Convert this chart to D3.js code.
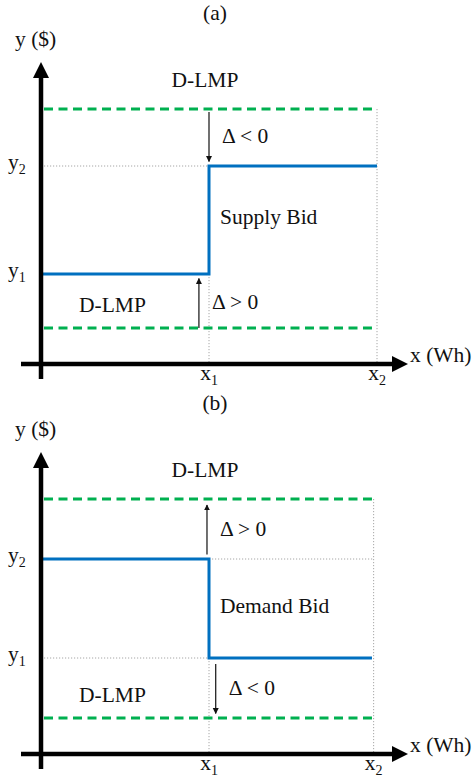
<!DOCTYPE html>
<html>
<head>
<meta charset="utf-8">
<script src="https://cdn.jsdelivr.net/npm/d3@7"></script>
<style>
  body { margin: 0; background: #fff; }
  svg text { font-family: "Liberation Serif", "Times New Roman", serif; fill: #111; }
</style>
</head>
<body>
<svg width="474" height="783"></svg>
<script>
// panel titles and bid names
const panelTitles = ["(a)", "(b)"];
const bidNames = ["Supply Bid", "Demand Bid"];
const xTickNames = ["1", "2"]; // x1, x2
const yTickNames = ["1", "2"]; // y1, y2

// x positions in data units (0..100), y price levels (0..100)
const xTicksA = [50, 100];
const xTicksB = [50, 99];
const levelsA = { y1: 30, y2: 66 };
const levelsB = { y1: 32, y2: 65 };
const dlmpA = [12, 85]; // lower / upper D-LMP
const dlmpB = [12, 85];
const dlmpEnd = 98.5;

// bid step curves
const stepA = [[0, 30], [50, 30], [50, 66], [100, 66]];
const stepB = [[0, 65], [50, 65], [50, 32], [98.5, 32]];

// delta arrows: x, from, to
const deltasA = [
  { label: "\u0394 < 0", x: 50, from: 84, to: 67.5 },
  { label: "\u0394 > 0", x: 47, from: 12, to: 28.5 }
];
const deltasB = [
  { label: "\u0394 > 0", x: 49.4, from: 66.5, to: 83 },
  { label: "\u0394 < 0", x: 52, from: 30, to: 13.5 }
];

const panels = [
  { title: panelTitles[0], bid: bidNames[0], xt: xTicksA, lv: levelsA, dlmp: dlmpA, step: stepA, deltas: deltasA, dy: 0, dotY: "y2" },
  { title: panelTitles[1], bid: bidNames[1], xt: xTicksB, lv: levelsB, dlmp: dlmpB, step: stepB, deltas: deltasB, dy: 390, dotY: "both" }
];

const svg = d3.select("svg");
const defs = svg.append("defs");
defs.append("marker")
  .attr("id", "tip")
  .attr("viewBox", "0 0 10 10")
  .attr("refX", 9).attr("refY", 5)
  .attr("markerWidth", 6).attr("markerHeight", 7)
  .attr("markerUnits", "userSpaceOnUse")
  .attr("orient", "auto")
  .append("path").attr("d", "M0,0L10,5L0,10Z").attr("fill", "#111");

const FS = 21.5;

panels.forEach((p) => {
  const g = svg.append("g").attr("transform", `translate(0,${p.dy})`);
  const x = d3.scaleLinear().domain([0, 100]).range([41, 377]);
  const y = d3.scaleLinear().domain([0, 100]).range([364, 64]);
  const x1 = x(p.xt[0]), x2 = x(p.xt[1]);
  const yy1 = y(p.lv.y1), yy2 = y(p.lv.y2);

  // title
  g.append("text").attr("x", 215).attr("y", 20).attr("text-anchor", "middle")
    .style("font-size", FS + "px").text(p.title);

  // dotted guides
  const dot = (xa, ya, xb, yb) => g.append("line")
    .attr("x1", xa).attr("y1", ya).attr("x2", xb).attr("y2", yb)
    .attr("stroke", "#a6a6a6").attr("stroke-width", 1).attr("stroke-dasharray", "1.2,1.8");
  const lo = Math.max(yy1, yy2);
  dot(x1, lo, x1, y(0));
  dot(x2, y(p.dlmp[1]), x2, y(0));
  if (p.dotY === "y2") {
    dot(x(0) + 3, yy2, x1, yy2);
  } else {
    dot(x(0) + 3, yy1, x1, yy1);
    dot(x1 + 3, yy2, x2, yy2);
  }

  // D-LMP dashed lines
  p.dlmp.forEach((v) => {
    g.append("line")
      .attr("x1", x(0) + 3).attr("x2", x(dlmpEnd))
      .attr("y1", y(v)).attr("y2", y(v))
      .attr("stroke", "#00b050").attr("stroke-width", 3)
      .attr("stroke-dasharray", "9,5.5");
  });

  // bid step
  g.append("path")
    .datum(p.step)
    .attr("d", d3.line().x((d) => x(d[0])).y((d) => y(d[1])))
    .attr("fill", "none").attr("stroke", "#0070c0").attr("stroke-width", 3)
    .attr("stroke-linejoin", "miter");

  // delta arrows
  p.deltas.forEach((d) => {
    g.append("line")
      .attr("x1", x(d.x)).attr("x2", x(d.x))
      .attr("y1", y(d.from)).attr("y2", y(d.to))
      .attr("stroke", "#111").attr("stroke-width", 1.2)
      .attr("marker-end", "url(#tip)");
    g.append("text")
      .attr("x", x(d.x) + 13)
      .attr("y", (y(d.from) + y(d.to)) / 2 + 6)
      .style("font-size", FS + "px").text(d.label);
  });

  // axes
  g.append("line").attr("x1", x(0)).attr("x2", x(0)).attr("y1", 379).attr("y2", 74)
    .attr("stroke", "#000").attr("stroke-width", 4.5);
  g.append("path").attr("d", `M${x(0)},62L${x(0) - 8},78L${x(0) + 8},78Z`).attr("fill", "#000");
  g.append("line").attr("x1", 21).attr("x2", 396).attr("y1", y(0)).attr("y2", y(0))
    .attr("stroke", "#000").attr("stroke-width", 4.5);
  g.append("path").attr("d", `M408,${y(0)}L392,${y(0) - 8}L392,${y(0) + 8}Z`).attr("fill", "#000");

  // axis labels
  g.append("text").attr("x", 15).attr("y", 46).style("font-size", FS + "px").text("y ($)");
  g.append("text").attr("x", 410).attr("y", y(0) - 2).style("font-size", FS + "px").text("x (Wh)");

  // tick labels with subscripts
  const sub = (tx, ty, base, s, anchor) => {
    const t = g.append("text").attr("x", tx).attr("y", ty)
      .attr("text-anchor", anchor).style("font-size", FS + "px");
    t.append("tspan").text(base);
    t.append("tspan").attr("dy", 5).style("font-size", "14px").text(s);
  };
  sub(8, yy2 + 3, "y", yTickNames[1], "start");
  sub(8, yy1 + 3, "y", yTickNames[0], "start");
  sub(x1, 380, "x", xTickNames[0], "middle");
  sub(x2, 380, "x", xTickNames[1], "middle");

  // text annotations
  g.append("text").attr("x", x1 - 4).attr("y", y(p.dlmp[1]) - 22)
    .attr("text-anchor", "middle").style("font-size", FS + "px").text("D-LMP");
  g.append("text").attr("x", 79).attr("y", y(p.dlmp[0]) - 16)
    .style("font-size", FS + "px").text("D-LMP");
  g.append("text").attr("x", x1 + 11).attr("y", (yy1 + yy2) / 2 + 4)
    .style("font-size", FS + "px").text(p.bid);
});
</script>
</body>
</html>
